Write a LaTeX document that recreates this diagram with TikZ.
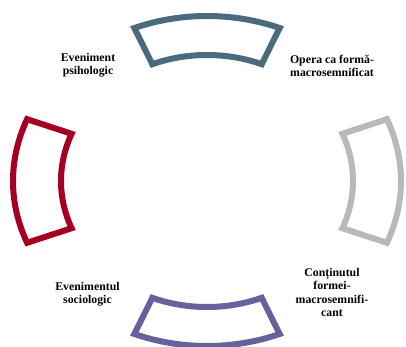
\documentclass[tikz,border=0pt]{standalone}
\usepackage{fontspec}
\setmainfont{Liberation Serif}
\usetikzlibrary{calc}

\definecolor{segTop}{RGB}{74,107,126}
\definecolor{segRight}{RGB}{185,185,185}
\definecolor{segBottom}{RGB}{102,98,158}
\definecolor{segLeft}{RGB}{165,0,33}

\tikzset{
  segment/.style={line width=6pt, line join=miter, fill=white},
  label text/.style={font=\bfseries\fontsize{11.8}{12.6}\selectfont, align=center, text=black, inner sep=0pt}
}

\begin{document}
\begin{tikzpicture}[x=1pt,y=1pt]
    \useasboundingbox (0,0) rectangle (406,346);

    \coordinate (O) at (207,165);

    % Segments
    \foreach \mid/\col in {90/segTop, 0/segRight, 270/segBottom, 180/segLeft}{
        \draw[segment, draw=\col]
            ($(O)+(\mid-22:194pt and 165pt)$)
            arc[start angle=\mid-22, end angle=\mid+22, x radius=194pt, y radius=165pt]
            -- ($(O)+(\mid+22:146pt and 126pt)$)
            arc[start angle=\mid+22, end angle=\mid-22, x radius=146pt, y radius=126pt]
            -- cycle;
    }

    % Labels
    \node[label text] (Psih)    at (88,280.5) {Eveniment\\psihologic};
    \node[label text] (Opera)   at (332,280)  {Opera ca formă-\\macrosemnificat};
    \node[label text] (Socio)   at (87.5,51.5) {Evenimentul\\sociologic};
    \node[label text, font=\bfseries\fontsize{11.8}{13.3}\selectfont] (Continut) at (332,53.5)
        {Conținutul\\formei-\\macrosemnifi-\\cant};
\end{tikzpicture}
\end{document}
